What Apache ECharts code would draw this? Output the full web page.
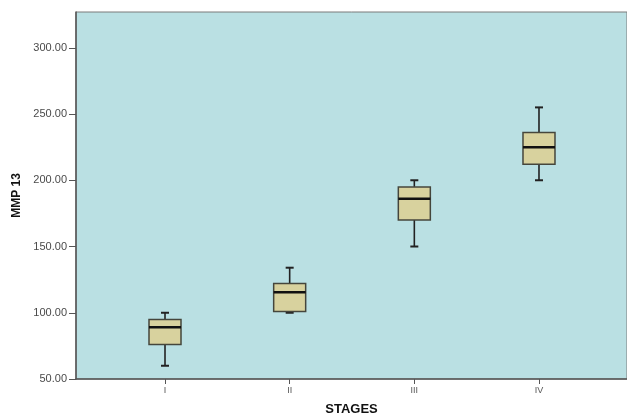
<!DOCTYPE html>
<html>
<head>
<meta charset="utf-8">
<script src="https://cdn.jsdelivr.net/npm/echarts@6/dist/echarts.min.js"></script>
<style>html,body{margin:0;padding:0;background:#fff;}#c{width:627px;height:417px;}</style>
</head>
<body>
<div id="c"></div>
<script>
// Data
var categories = ['I', 'II', 'III', 'IV'];
var whiskerLow = [60, 100, 150, 200];
var quartile1 = [76, 101, 170, 212];
var medians = [89, 115.5, 186, 225];
var quartile3 = [95, 122, 195, 236];
var whiskerHigh = [100, 134, 200, 255];
var yTicks = [50, 100, 150, 200, 250, 300];
var xTicks = [0, 1, 2, 3];

var boxData = categories.map(function (c, i) {
  return [i, whiskerLow[i], quartile1[i], medians[i], quartile3[i], whiskerHigh[i]];
});

var chart = echarts.init(document.getElementById('c'));
var FONT = 'Liberation Sans, Arial, sans-serif';

function renderBox(params, api) {
  var x = api.value(0);
  var pLo = api.coord([x, api.value(1)]);
  var pQ1 = api.coord([x, api.value(2)]);
  var pMed = api.coord([x, api.value(3)]);
  var pQ3 = api.coord([x, api.value(4)]);
  var pHi = api.coord([x, api.value(5)]);
  var cx = pMed[0];
  var bw = 32, cw = 8;
  var whisk = { stroke: '#222', lineWidth: 1.6 };
  return {
    type: 'group',
    children: [
      { type: 'line', shape: { x1: cx, y1: pHi[1], x2: cx, y2: pQ3[1] }, style: whisk },
      { type: 'line', shape: { x1: cx, y1: pQ1[1], x2: cx, y2: pLo[1] }, style: whisk },
      { type: 'line', shape: { x1: cx - cw / 2, y1: pHi[1], x2: cx + cw / 2, y2: pHi[1] }, style: { stroke: '#222', lineWidth: 2 } },
      { type: 'line', shape: { x1: cx - cw / 2, y1: pLo[1], x2: cx + cw / 2, y2: pLo[1] }, style: { stroke: '#222', lineWidth: 2 } },
      { type: 'rect', shape: { x: cx - bw / 2, y: pQ3[1], width: bw, height: pQ1[1] - pQ3[1] },
        style: { fill: '#D8D29E', stroke: '#45463c', lineWidth: 1.5 } },
      { type: 'line', shape: { x1: cx - bw / 2, y1: pMed[1], x2: cx + bw / 2, y2: pMed[1] }, style: { stroke: '#111', lineWidth: 2.5 } }
    ]
  };
}

chart.setOption({
  animation: false,
  backgroundColor: '#ffffff',
  grid: {
    left: 76, top: 12, right: 0, bottom: 38,
    outerBoundsMode: 'none', containLabel: false,
    show: true, backgroundColor: '#BAE0E3', borderColor: '#7a7a7a', borderWidth: 1
  },
  xAxis: {
    type: 'value',
    min: -0.714, max: 3.706,
    name: 'STAGES', nameLocation: 'middle', nameGap: 24,
    nameTextStyle: { fontFamily: FONT, fontWeight: 'bold', fontSize: 13, color: '#111' },
    axisLine: { onZero: false, lineStyle: { color: '#555', width: 1.5 } },
    axisTick: { show: true, length: 5, customValues: xTicks, lineStyle: { color: '#555', width: 1 } },
    axisLabel: {
      customValues: xTicks, margin: 7, fontFamily: FONT, fontSize: 9, color: '#555',
      formatter: function (v) { return categories[Math.round(v)] || ''; }
    },
    splitLine: { show: false }
  },
  yAxis: {
    type: 'value',
    min: 50, max: 327,
    name: 'MMP 13', nameLocation: 'middle', nameGap: 51, nameRotate: 90,
    nameTextStyle: { fontFamily: FONT, fontWeight: 'bold', fontSize: 12, color: '#111' },
    axisLine: { show: true, onZero: false, lineStyle: { color: '#555', width: 1.5 } },
    axisTick: { show: true, length: 7, customValues: yTicks, lineStyle: { color: '#555', width: 1 } },
    axisLabel: {
      customValues: yTicks, margin: 9, fontFamily: FONT, fontSize: 11, color: '#4a4a4a',
      formatter: function (v) { return v.toFixed(2); }
    },
    splitLine: { show: false }
  },
  series: [{
    type: 'custom',
    renderItem: renderBox,
    encode: { x: 0, y: [1, 2, 3, 4, 5] },
    data: boxData,
    clip: false
  }]
});
</script>
</body>
</html>
